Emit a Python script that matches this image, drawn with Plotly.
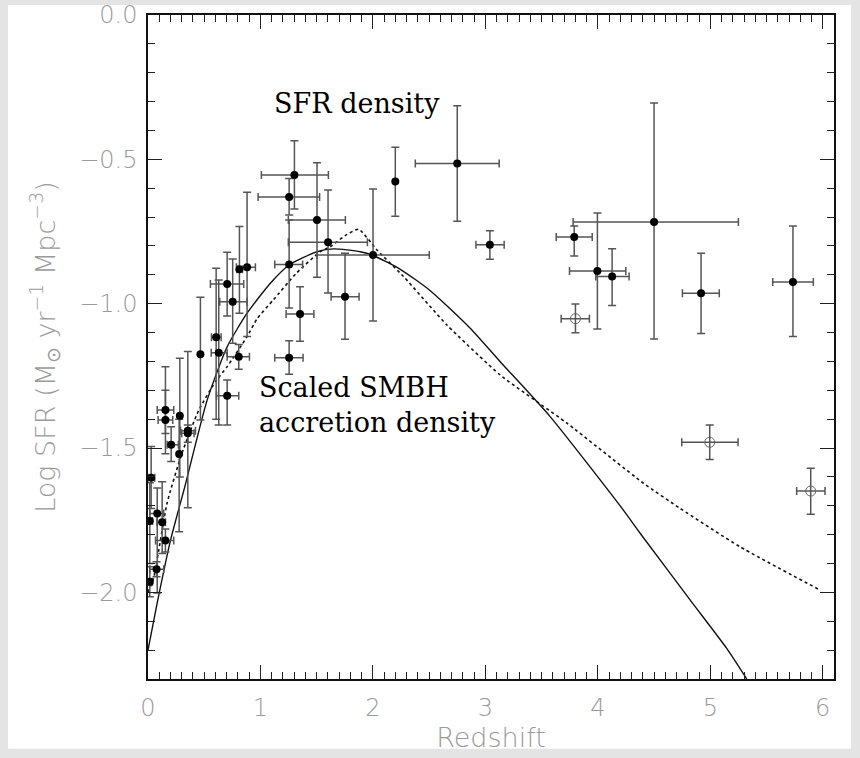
import plotly.graph_objects as go

# ---------------- data ----------------
# filled points: redshift, log SFR, redshift range, log SFR range
z_pts = [1.302, 1.255, 1.503, 1.601, 1.255, 1.352, 1.752, 2.001, 2.199, 2.750,
         3.040, 3.790, 3.996, 4.127, 4.500, 4.918, 5.735,
         0.881, 0.813, 0.704, 0.753, 0.606, 0.629, 0.807, 0.466, 0.704, 1.255,
         0.155, 0.155, 0.283, 0.277, 0.354, 0.354, 0.206, 0.028, 0.082, 0.016,
         0.126, 0.155, 0.076, 0.016]
y_pts = [-0.554, -0.630, -0.710, -0.787, -0.864, -1.036, -0.976, -0.831, -0.577, -0.514,
         -0.796, -0.769, -0.887, -0.906, -0.717, -0.964, -0.925,
         -0.874, -0.881, -0.932, -0.993, -1.116, -1.170, -1.184, -1.175, -1.319, -1.187,
         -1.368, -1.403, -1.388, -1.521, -1.440, -1.449, -1.489, -1.603, -1.727, -1.753,
         -1.757, -1.820, -1.920, -1.963]
z_lo = [1.008, 0.979, 1.248, 1.248, 1.127, 1.228, 1.628, 1.503, 2.199, 2.377,
        2.916, 3.630, 3.748, 3.982, 3.780, 4.752, 5.555,
        0.786, 0.790, 0.555, 0.638, 0.564, 0.562, 0.704, 0.466, 0.609, 1.127,
        0.082, 0.090, 0.283, 0.277, 0.289, 0.300, 0.170, 0.000, 0.016, 0.000,
        0.080, 0.067, 0.016, 0.000]
z_hi = [1.604, 1.526, 1.755, 1.951, 1.375, 1.475, 1.877, 2.501, 2.199, 3.123,
        3.167, 3.950, 4.249, 4.278, 5.250, 5.080, 5.916,
        0.955, 0.840, 0.851, 0.881, 0.650, 0.704, 0.902, 0.466, 0.807, 1.379,
        0.229, 0.220, 0.283, 0.277, 0.422, 0.410, 0.270, 0.060, 0.140, 0.040,
        0.155, 0.229, 0.140, 0.040]
y_lo = [-0.672, -0.693, -0.908, -0.963, -1.015, -1.130, -1.123, -1.060, -0.697, -0.714,
        -0.846, -0.835, -1.088, -1.006, -1.122, -1.103, -1.114,
        -1.114, -1.033, -1.043, -1.137, -1.400, -1.420, -1.227, -1.403, -1.420, -1.244,
        -1.450, -1.520, -1.600, -1.790, -1.707, -1.480, -1.547, -1.709, -2.002, -1.900,
        -1.865, -1.860, -1.946, -2.015]
y_hi = [-0.436, -0.566, -0.512, -0.606, -0.710, -0.941, -0.825, -0.603, -0.458, -0.314,
        -0.747, -0.731, -0.686, -0.810, -0.305, -0.825, -0.731,
        -0.614, -0.733, -0.822, -0.845, -0.877, -0.918, -1.141, -0.978, -1.264, -1.128,
        -1.218, -1.300, -1.189, -1.400, -1.166, -1.420, -1.426, -1.495, -1.638, -1.620,
        -1.617, -1.780, -1.894, -1.911]

# open points
z_open = [3.801, 4.995, 5.893]
y_open = [-1.052, -1.480, -1.649]
z_open_lo = [3.674, 4.746, 5.768]
z_open_hi = [3.925, 5.247, 6.020]
y_open_lo = [-1.101, -1.540, -1.729]
y_open_hi = [-1.001, -1.420, -1.570]

# scaled SMBH accretion density curve (solid)
z_solid = [0.0, 0.08, 0.2, 0.33, 0.526, 0.704, 0.881, 1.088, 1.255, 1.503, 1.651,
           1.888, 2.001, 2.24, 2.51, 2.865, 3.132, 3.576, 4.227, 4.376, 4.82, 5.146, 5.324]
y_solid = [-2.20, -2.04, -1.82, -1.63, -1.334, -1.149, -1.033, -0.929, -0.866, -0.820, -0.810,
           -0.820, -0.833, -0.880, -0.955, -1.085, -1.201, -1.391, -1.715, -1.795, -2.026,
           -2.194, -2.30]

# dotted curve
z_dot = [0.0, 0.05, 0.17, 0.30, 0.45, 0.60, 0.704, 0.881, 0.97, 1.114, 1.32, 1.53, 1.62,
         1.75, 1.873, 2.036, 2.273, 2.658, 3.132, 3.726, 4.406, 4.731, 5.264, 5.976]
y_dot = [-2.00, -1.95, -1.69, -1.52, -1.37, -1.27, -1.218, -1.114, -1.052, -0.987, -0.894, -0.82,
         -0.803, -0.765, -0.742, -0.814, -0.906, -1.074, -1.247, -1.414, -1.622, -1.709, -1.842, -1.992]

x_tick_step = 1
y_tick_step = 0.5
minor_step = 0.1

# ---------------- figure ----------------
ax_font = dict(family="DejaVu Sans", size=24, color="#9a9a9a", weight=200)
title_font = dict(family="DejaVu Sans", size=27, color="#9a9a9a", weight=200)
err_col = "#555555"

fig = go.Figure()

fig.add_trace(go.Scatter(
    x=z_solid, y=y_solid, mode="lines",
    line=dict(color="#111111", width=1.4, shape="spline", smoothing=0.6),
    hoverinfo="skip"))

fig.add_trace(go.Scatter(
    x=z_dot, y=y_dot, mode="lines",
    line=dict(color="#111111", width=1.6, dash="dot", shape="spline", smoothing=0.5),
    hoverinfo="skip"))

fig.add_trace(go.Scatter(
    x=z_pts, y=y_pts, mode="markers",
    marker=dict(symbol="circle", size=8, color="black"),
    error_x=dict(type="data", symmetric=False,
                 array=[h - v for h, v in zip(z_hi, z_pts)],
                 arrayminus=[v - l for l, v in zip(z_lo, z_pts)],
                 color=err_col, thickness=1.5, width=4),
    error_y=dict(type="data", symmetric=False,
                 array=[h - v for h, v in zip(y_hi, y_pts)],
                 arrayminus=[v - l for l, v in zip(y_lo, y_pts)],
                 color=err_col, thickness=1.5, width=4)))

fig.add_trace(go.Scatter(
    x=z_open, y=y_open, mode="markers",
    marker=dict(symbol="circle-open", size=10, color="#666666", line=dict(width=1)),
    error_x=dict(type="data", symmetric=False,
                 array=[h - v for h, v in zip(z_open_hi, z_open)],
                 arrayminus=[v - l for l, v in zip(z_open_lo, z_open)],
                 color=err_col, thickness=1.5, width=4),
    error_y=dict(type="data", symmetric=False,
                 array=[h - v for h, v in zip(y_open_hi, y_open)],
                 arrayminus=[v - l for l, v in zip(y_open_lo, y_open)],
                 color=err_col, thickness=1.5, width=4)))

ann_font = dict(family="DejaVu Serif", size=27, color="black")
fig.add_annotation(x=1.10, y=-0.305, xref="x", yref="y", text="SFR density",
                   showarrow=False, xanchor="left", yanchor="middle", font=ann_font)
fig.add_annotation(x=0.97, y=-1.289, xref="x", yref="y", text="Scaled SMBH",
                   showarrow=False, xanchor="left", yanchor="middle", font=ann_font)
fig.add_annotation(x=0.97, y=-1.411, xref="x", yref="y", text="accretion density",
                   showarrow=False, xanchor="left", yanchor="middle", font=ann_font)

# white page area inside light grey border
fig.add_shape(type="rect", xref="paper", yref="paper",
              x0=-0.204, x1=1.0248, y0=-0.105, y1=1.015,
              fillcolor="white", line=dict(width=0), layer="below")

common = dict(showgrid=False, zeroline=False, showline=True, linecolor="#111111",
              linewidth=1.5, mirror="ticks", ticks="inside", ticklen=14, tickwidth=1.3,
              tickcolor="#222222", tickfont=ax_font, tickmode="linear", tick0=0,
              minor=dict(ticks="inside", ticklen=7, tickwidth=1.2, tickcolor="#222222",
                         showgrid=False, tickmode="linear", tick0=0, dtick=minor_step))

fig.update_xaxes(range=[0, 6.1], dtick=x_tick_step, tickformat="d",
                 ticklabelstandoff=6,
                 title=dict(text="Redshift", font=title_font, standoff=5), **common)
fig.update_yaxes(range=[-2.3, 0], dtick=y_tick_step, tickformat=".1f",
                 ticklabelstandoff=4,
                 title=dict(text="Log SFR (M<sub>\u2299</sub> yr<sup>\u22121</sup> Mpc<sup>\u22123</sup>)",
                            font=title_font, standoff=16), **common)

fig.update_layout(width=860, height=758, autosize=False,
                  margin=dict(l=148, r=26, t=15, b=79, autoexpand=False),
                  paper_bgcolor="#e4e4e4", plot_bgcolor="white",
                  showlegend=False)

fig.write_html("out.html")
